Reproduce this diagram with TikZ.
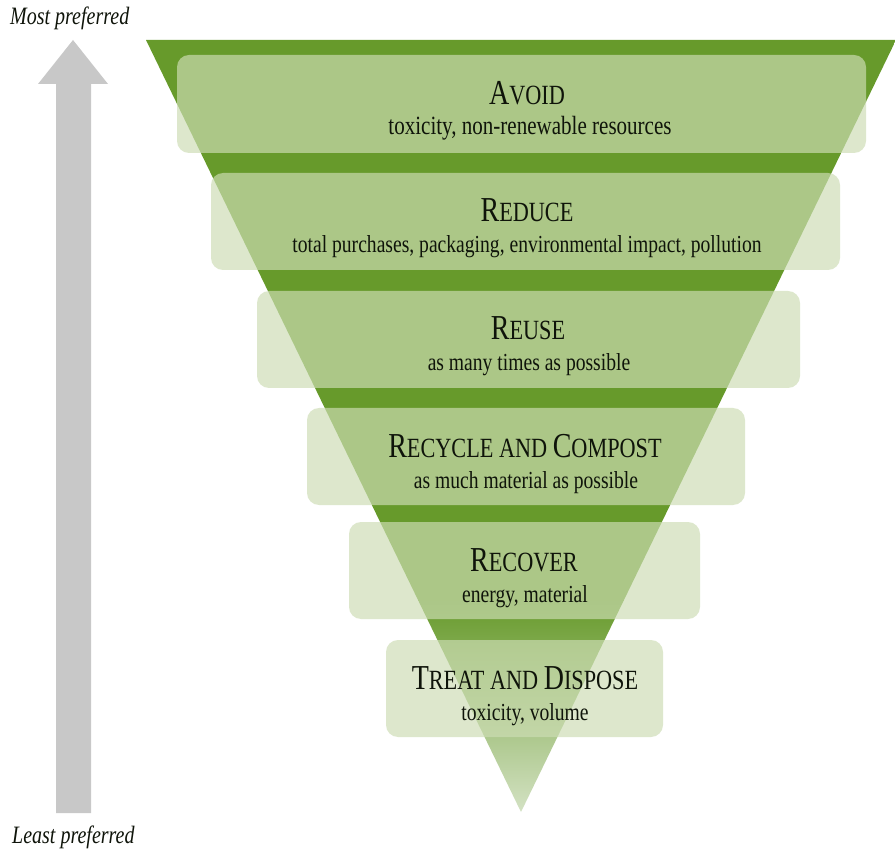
\documentclass[tikz,border=0pt]{standalone}
\usepackage{fontspec}
\setmainfont{Liberation Serif}[FakeStretch=0.8]
\definecolor{tri}{RGB}{103,154,43}
\definecolor{trilight}{RGB}{212,226,196}
\definecolor{boxc}{RGB}{205,221,180}
\definecolor{arrowc}{RGB}{200,200,200}
\definecolor{txt}{RGB}{15,20,10}
\newcommand{\capA}{\fontsize{35}{35}\selectfont}
\newcommand{\capB}{\fontsize{27.8}{27.8}\selectfont}
\newcommand{\subf}{\fontsize{24.5}{24.5}\selectfont}
\tikzset{
  tier/.style={fill=boxc, fill opacity=0.68, rounded corners=12pt, draw=none, inner sep=0pt, outer sep=0pt},
  ttl/.style={anchor=base, inner sep=0pt, text=txt},
  sub/.style={anchor=base, inner sep=0pt, text=txt, font=\subf},
  lbl/.style={anchor=base west, inner sep=0pt, text=txt, font=\fontsize{25}{25}\selectfont\itshape},
}
\begin{document}
\begin{tikzpicture}[x=1pt,y=-1pt]
\useasboundingbox (0,0) rectangle (895,850);
\fill[white] (0,0) rectangle (895,850);
% preference arrow
\fill[arrowc] (56,813) -- (56,84) -- (38,84) -- (73,40) -- (108,84) -- (91,84) -- (91,813) -- cycle;
\node[lbl] (most) at (10,25) {Most preferred};
\node[lbl] (least) at (12,843) {Least preferred};
% triangle
\coordinate (TL) at (146,40);
\coordinate (TR) at (896,40);
\coordinate (AP) at (521,812);
\begin{scope}
\clip (TL) -- (TR) -- (AP) -- cycle;
\fill[tri] (0,30) rectangle (895,601);
\shade[top color=tri, bottom color=trilight] (0,600) rectangle (895,813);
\end{scope}
% tiers
\node[tier, minimum width=689pt, minimum height=98pt] (b1) at (521.5,104) {};
\node[tier, minimum width=629pt, minimum height=97pt] (b2) at (525.5,221.5) {};
\node[tier, minimum width=543pt, minimum height=97pt] (b3) at (528.5,339.5) {};
\node[tier, minimum width=438pt, minimum height=97pt] (b4) at (526,456.5) {};
\node[tier, minimum width=351pt, minimum height=97pt] (b5) at (524.5,570.5) {};
\node[tier, minimum width=277pt, minimum height=97pt] (b6) at (524.5,688.5) {};
% texts
\node[ttl] (t1) at (527,105) {\capA A\capB VOID};
\node[sub, font=\fontsize{26.3}{26.3}\selectfont] (s1) at (530,135) {toxicity, non-renewable resources};
\node[ttl] (t2) at (527,222) {\capA R\capB EDUCE};
\node[sub] (s2) at (527,253) {total purchases, packaging, environmental impact, pollution};
\node[ttl] (t3) at (528,340) {\capA R\capB EUSE};
\node[sub] (s3) at (529,371) {as many times as possible};
\node[ttl] (t4) at (525,457) {\capA R\capB ECYCLE AND \capA C\capB OMPOST};
\node[sub] (s4) at (526,488) {as much material as possible};
\node[ttl] (t5) at (524,571) {\capA R\capB ECOVER};
\node[sub] (s5) at (525,602) {energy, material};
\node[ttl] (t6) at (525,689) {\capA T\capB REAT AND \capA D\capB ISPOSE};
\node[sub] (s6) at (525,720) {toxicity, volume};
\end{tikzpicture}
\end{document}
